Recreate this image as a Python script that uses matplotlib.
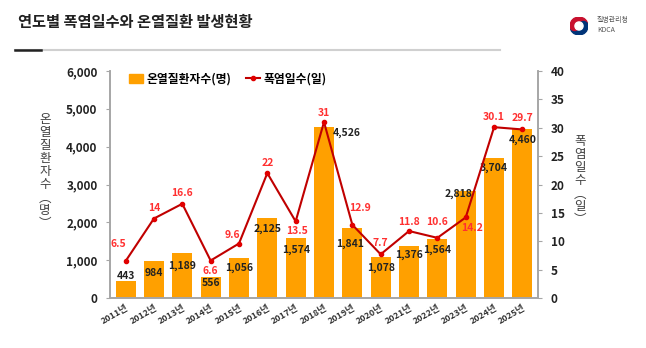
import matplotlib.pyplot as plt
from matplotlib.patches import Wedge, Circle
from matplotlib.lines import Line2D

plt.rcParams['font.family'] = ['Noto Sans CJK KR', 'DejaVu Sans']

years = ["2011년", "2012년", "2013년", "2014년", "2015년", "2016년", "2017년", "2018년",
         "2019년", "2020년", "2021년", "2022년", "2023년", "2024년", "2025년"]
patients = [443, 984, 1189, 556, 1056, 2125, 1574, 4526, 1841, 1078, 1376, 1564, 2818, 3704, 4460]
heat_days = [6.5, 14, 16.6, 6.6, 9.6, 22, 13.5, 31, 12.9, 7.7, 11.8, 10.6, 14.2, 30.1, 29.7]
heat_text = ["6.5", "14", "16.6", "6.6", "9.6", "22", "13.5", "31", "12.9", "7.7",
             "11.8", "10.6", "14.2", "30.1", "29.7"]

# label offsets in pixels (dx, dy)
bar_off = [(0, 5), (0, -12), (0, -13), (0, -6), (0, -10), (0, -11), (0, -11), (23, -6),
           (-2, -16), (0, -11), (0, -9), (0, -11), (-7, -2), (0, -10), (0, -11)]
line_off = [(-7, 17), (0, 11), (0, 11), (0, -10), (-7, 9), (0, 10), (1, -10), (0, 9),
            (8, 17), (0, 11), (0, 9), (0, 16), (6, -11), (0, 10), (0, 11)]

BAR = "#FFA000"
LINE = "#C00000"
RED_TXT = "#FF3030"
GREY = "#A6A6A6"

fig = plt.figure(figsize=(6.46, 3.48), dpi=100)
ax = fig.add_axes([110 / 646, 1 - 298 / 348, 428 / 646, 227 / 348])
ax2 = ax.twinx()

x = list(range(len(years)))
ax.bar(x, patients, width=0.7, color=BAR, zorder=2)
ax.set_ylim(0, 6000)
ax.set_xlim(-0.55, 14.55)
ax.set_yticks(range(0, 6001, 1000))
ax.set_yticklabels([f"{v:,}" for v in range(0, 6001, 1000)], fontsize=8.5, fontweight='bold',
                   color="#222222")
ax.set_xticks(x)
ax.set_xticklabels(years, rotation=30, ha='right', rotation_mode='anchor', fontsize=6.5,
                   fontweight='bold', color="#333333")
ax.tick_params(axis='x', length=0, pad=4)
ax.tick_params(axis='y', length=3, color=GREY, pad=6)

ax2.plot(x, heat_days, color=LINE, lw=1.5, marker='o', markersize=3,
         markerfacecolor="#E00000", markeredgecolor="#E00000", zorder=3)
ax2.set_ylim(0, 40)
ax2.set_yticks(range(0, 41, 5))
ax2.set_yticklabels([str(v) for v in range(0, 41, 5)], fontsize=8.5, fontweight='bold',
                    color="#222222")
ax2.tick_params(axis='y', length=3, color=GREY, pad=6)

for a in (ax, ax2):
    a.spines['top'].set_visible(False)
    for s in ('left', 'right', 'bottom'):
        a.spines[s].set_color(GREY)
        a.spines[s].set_linewidth(1.2)

for i, v in enumerate(patients):
    ax.annotate(f"{v:,}", (x[i], v), xytext=bar_off[i], textcoords='offset pixels',
                ha='center', va='center', fontsize=7.5, fontweight='bold', color="#222222",
                zorder=5)
for i, v in enumerate(heat_days):
    ax2.annotate(heat_text[i], (x[i], v), xytext=line_off[i], textcoords='offset pixels',
                 ha='center', va='center', fontsize=7.5, fontweight='bold', color=RED_TXT,
                 zorder=5)

# legend
handles = [plt.Rectangle((0, 0), 1, 1, color=BAR),
           Line2D([0], [0], color=LINE, lw=1.5, marker='o', markersize=3,
                  markerfacecolor="#E00000", markeredgecolor="#E00000")]
ax2.legend(handles, ["온열질환자수(명)", "폭염일수(일)"], ncol=2, frameon=False,
           loc='upper left', bbox_to_anchor=(0.02, 1.04), handlelength=1.2,
           handletextpad=0.3, columnspacing=1.2, prop={'weight': 'bold', 'size': 8.5})

# axis titles as stacked vertical text
fig.text(45 / 646, 1 - 172 / 348, "\n".join("온열질환자수") + "\n︵\n명\n︶", ha='center',
         va='center', fontsize=9, color="#404040", linespacing=1.0)
fig.text(580 / 646, 1 - 181 / 348, "\n".join("폭염일수") + "\n︵\n일\n︶", ha='center',
         va='center', fontsize=9, color="#404040", linespacing=1.0)

# header
fig.text(18 / 646, 1 - 22 / 348, "연도별 폭염일수와 온열질환 발생현황", ha='left', va='center',
         fontsize=11, fontweight='bold', color="#222222")
fig.add_artist(Line2D([15 / 646, 500 / 646], [1 - 50 / 348] * 2, color="#D0D0D0", lw=1.5))
fig.add_artist(Line2D([15 / 646, 41 / 646], [1 - 50 / 348] * 2, color="#222222", lw=1.8))

# logo
lax = fig.add_axes([570 / 646, 1 - 35 / 348, 18 / 646, 18 / 348])
lax.set_xlim(-1, 1)
lax.set_ylim(-1, 1)
lax.set_aspect('equal')
lax.axis('off')
lax.add_patch(Wedge((0, 0), 1, 0, 180, color="#C8102E"))
lax.add_patch(Wedge((0, 0), 1, 180, 360, color="#003478"))
lax.add_patch(Circle((0.5, 0), 0.5, color="#003478"))
lax.add_patch(Circle((-0.5, 0), 0.5, color="#C8102E"))
lax.add_patch(Circle((0, 0), 0.45, color="white"))
fig.text(597 / 646, 1 - 20 / 348, "질병관리청", fontsize=5, color="#555555", va='center')
fig.text(597 / 646, 1 - 30 / 348, "KDCA", fontsize=5, color="#555555", va='center')

fig.savefig("out.png", dpi=100)
